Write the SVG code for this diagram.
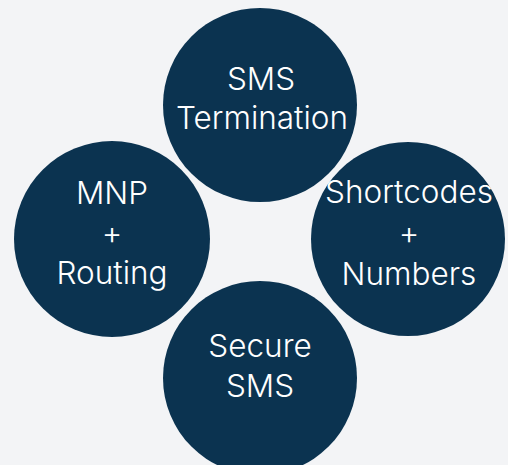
<svg xmlns="http://www.w3.org/2000/svg" width="508" height="465" viewBox="0 0 508 465">
<style>
.c{fill:#0b3350}
.t{fill:#ffffff;font-family:Inter,Lato,"Open Sans","Liberation Sans",sans-serif;font-weight:300;font-size:31.5px;text-anchor:middle}
</style>
<rect width="508" height="465" fill="#f3f4f6"/>
<g id="connectors"/>
<g id="node-top">
<circle class="c" cx="260" cy="105" r="97"/>
<text class="t" x="261" y="90">SMS</text>
<text class="t" x="262" y="129">Termination</text>
</g>
<g id="node-left">
<circle class="c" cx="112" cy="239" r="98"/>
<text class="t" x="112" y="204">MNP</text>
<text class="t" x="112" y="244">+</text>
<text class="t" x="112" y="284">Routing</text>
</g>
<g id="node-right">
<circle class="c" cx="408" cy="239" r="97"/>
<text class="t" x="409" y="203">Shortcodes</text>
<text class="t" x="409" y="244">+</text>
<text class="t" x="409" y="285">Numbers</text>
</g>
<g id="node-bottom">
<circle class="c" cx="260" cy="378" r="97"/>
<text class="t" x="260" y="357">Secure</text>
<text class="t" x="260" y="397">SMS</text>
</g>
</svg>
